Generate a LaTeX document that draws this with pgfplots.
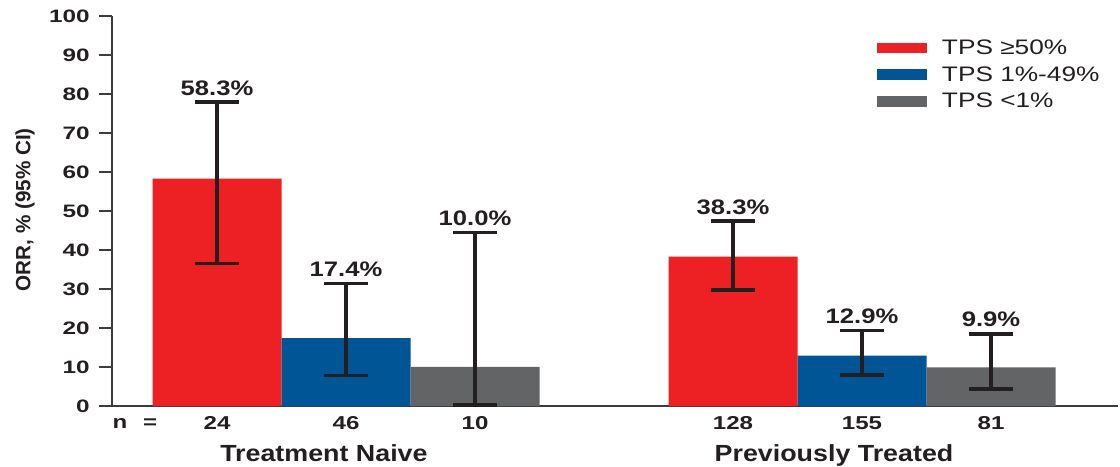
\documentclass[border=0pt]{standalone}
\usepackage{fontspec}
\setmainfont{Liberation Sans}
\usepackage{graphicx}
\usepackage{pgfplots}
\pgfplotsset{compat=1.18}
\definecolor{cred}{RGB}{237,32,36}
\definecolor{cblue}{RGB}{0,85,150}
\definecolor{cgray}{RGB}{99,100,102}
\definecolor{errc}{RGB}{35,31,32}
\definecolor{axc}{RGB}{60,60,60}
\definecolor{txt}{RGB}{35,31,32}
\pgfplotstableread{
x y ep em
1 58.3 19.6 21.7
5 38.3 9.1 8.5
}\redtab
\pgfplotstableread{
x y ep em
2 17.4 14.0 9.6
6 12.9 6.4 4.9
}\bluetab
\pgfplotstableread{
x y ep em
3 10.0 34.5 9.7
7 9.9 8.6 5.5
}\graytab
\pgfplotstableread{
x hi v
1 77.9 58.3
2 31.4 17.4
3 44.5 10.0
5 47.4 38.3
6 19.3 12.9
7 18.5 9.9
}\labtab
\begin{document}
\begin{tikzpicture}
\begin{axis}[
  x=96.75pt, y=2.925pt,
  xmin=0.186, xmax=7.984, ymin=0, ymax=100,
  enlargelimits=false,
  clip=false,
  axis x line=bottom, axis y line=left,
  axis line style={-, line width=1.6pt, draw=axc},
  ytick={0,10,...,100},
  xtick={1,2,3,5,6,7},
  xticklabels={24,46,10,128,155,81},
  tick align=outside,
  major tick length=9.75pt,
  y tick style={line width=1.6pt, draw=axc},
  x tick style={draw=none},
  /pgf/number format/assume math mode=true,
  yticklabel style={font=\fontsize{13.5pt}{16pt}\selectfont\bfseries, text=txt, anchor=east, inner sep=0pt, xscale=1.35},
  yticklabel shift=6.75pt,
  xticklabel style={font=\fontsize{14pt}{16pt}\selectfont\bfseries, text=txt, anchor=base, inner sep=0pt, xscale=1.29},
  xticklabel shift=7.5pt,
  ylabel={ORR, \% (95\% CI)},
  ylabel style={at={(axis description cs:-0.0865,0.503)}, anchor=center, font=\fontsize{15.5pt}{18pt}\selectfont\bfseries, text=txt},
  legend style={at={(axis cs:6.116,93.9)}, anchor=north west, draw=none, fill=none, inner sep=0pt, outer sep=0pt, row sep=7.5pt, column sep=11.25pt, font=\fontsize{15.75pt}{18pt}\selectfont, text=txt, nodes={inner sep=0pt}},
  legend cell align=left,
  legend image code/.code={\fill[#1] (0pt,-4pt) rectangle (37.5pt,4pt);},
  error bars/error bar style={line width=2.6pt, draw=errc},
  error bars/error mark options={rotate=90, line width=2.6pt, draw=errc, mark size=16.3pt},
]
\addplot[ybar, bar width=1, bar shift=0pt, fill=cred, draw=none,
  error bars/.cd, y dir=both, y explicit]
  table[x=x, y=y, y error plus=ep, y error minus=em] {\redtab};
\addlegendentry{\scalebox{1.25}[1]{TPS ≥50\%}}
\addplot[ybar, bar width=1, bar shift=0pt, fill=cblue, draw=none,
  error bars/.cd, y dir=both, y explicit]
  table[x=x, y=y, y error plus=ep, y error minus=em] {\bluetab};
\addlegendentry{\scalebox{1.25}[1]{TPS 1\%-49\%}}
\addplot[ybar, bar width=1, bar shift=0pt, fill=cgray, draw=none,
  error bars/.cd, y dir=both, y explicit]
  table[x=x, y=y, y error plus=ep, y error minus=em] {\graytab};
\addlegendentry{\scalebox{1.25}[1]{TPS <1\%}}
\addplot[draw=none, mark=none, forget plot, point meta=explicit,
  nodes near coords={\pgfmathprintnumber[fixed, fixed zerofill, precision=1]{\pgfplotspointmeta}\%},
  every node near coord/.append style={anchor=base, yshift=5.25pt, font=\fontsize{15.75pt}{18pt}\selectfont\bfseries, text=txt, inner sep=0pt, xscale=1.22}]
  table[x=x, y=hi, meta=v] {\labtab};
\node[anchor=base, yshift=-16.5pt, font=\fontsize{14pt}{16pt}\selectfont\bfseries, text=txt, inner sep=0pt, xscale=1.29] at (axis cs:0.248,0) {n};
\node[anchor=base, yshift=-16.5pt, font=\fontsize{14pt}{16pt}\selectfont\bfseries, text=txt, inner sep=0pt, xscale=1.29] at (axis cs:0.481,0) {=};
\node[anchor=base, yshift=-41.6pt, font=\fontsize{17.5pt}{20pt}\selectfont\bfseries, text=txt, inner sep=0pt, xscale=1.15] at (axis cs:1.829,0) {Treatment Naive};
\node[anchor=base, yshift=-41.6pt, font=\fontsize{17.5pt}{20pt}\selectfont\bfseries, text=txt, inner sep=0pt, xscale=1.15] at (axis cs:5.783,0) {Previously Treated};
\end{axis}
\pgfresetboundingbox
\useasboundingbox (-84pt,-45.75pt) rectangle (756pt,304.5pt);
\end{tikzpicture}
\end{document}
